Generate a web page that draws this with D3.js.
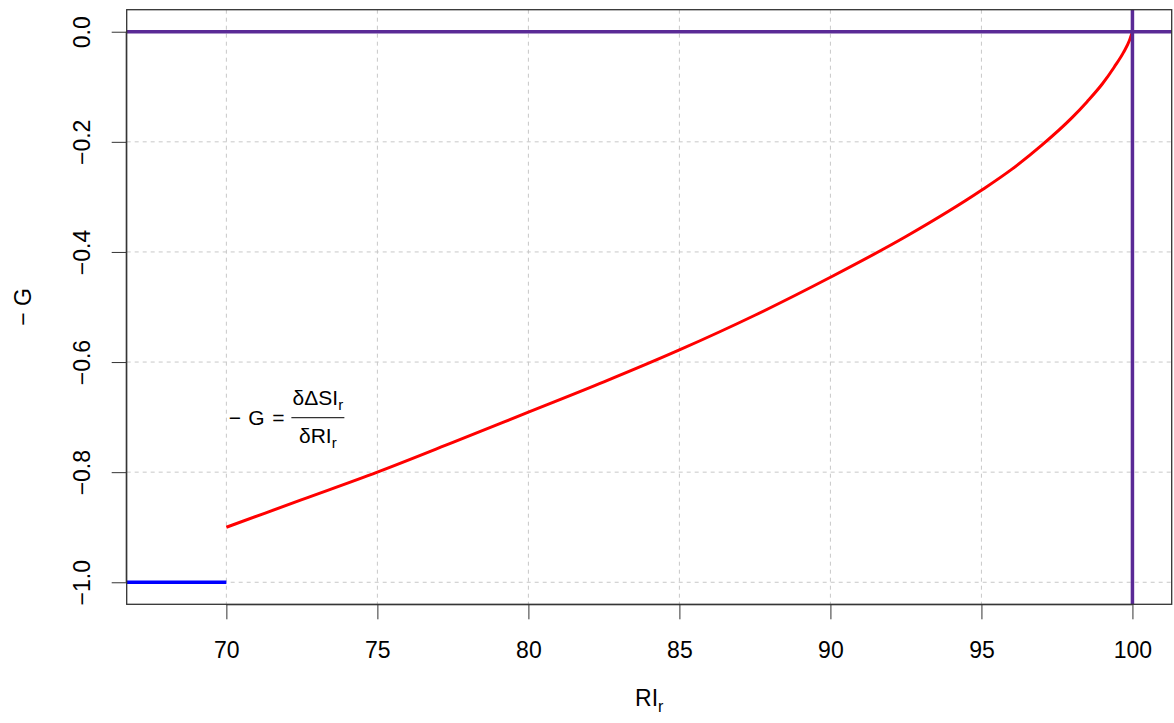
<!DOCTYPE html>
<html>
<head>
<meta charset="utf-8">
<script src="https://cdn.jsdelivr.net/npm/d3@7"></script>
<style>
  body { margin: 0; background: #fff; }
  text { font-family: "Liberation Sans", Arial, sans-serif; fill: #000; }
</style>
</head>
<body>
<div id="chart"></div>
<script>
'use strict';

const width = 1174, height = 723,
    margin = {top: 10, right: 2, bottom: 119, left: 127};

// values
const curveX = [70, 72.5, 75, 77.5, 80, 82.5, 85, 87.5, 90, 92.5, 95, 96, 97, 98, 98.5, 99, 99.4, 99.7, 99.9, 100];
const curveY = [-0.900, -0.850, -0.800, -0.746, -0.691, -0.636, -0.578, -0.515, -0.446, -0.372, -0.288, -0.250, -0.206, -0.156, -0.127, -0.095, -0.064, -0.038, -0.016, 0];
const flatX = [66.7, 70];
const flatY = [-1, -1];
const xTicks = [70, 75, 80, 85, 90, 95, 100];
const yTicks = [0, -0.2, -0.4, -0.6, -0.8, -1.0];
const hLineY = 0;
const vLineX = 100;

const curveData = curveX.map((x, i) => ({x: x, y: curveY[i]}));
const flatData = flatX.map((x, i) => ({x: x, y: flatY[i]}));

const xScale = d3.scaleLinear()
    .domain([66.70, 101.30])
    .range([126.7, width - margin.right - 0.3]);
const yScale = d3.scaleLinear()
    .domain([-1.04, 0.04])
    .range([604.3, 9.7]);

const svg = d3.select("#chart")
    .append("svg")
    .attr("width", width)
    .attr("height", height);

const x0 = xScale.range()[0], x1 = xScale.range()[1];
const y0 = yScale.range()[1], y1 = yScale.range()[0];

// grid
svg.append("g")
    .selectAll("line")
    .data(xTicks)
    .join("line")
    .attr("x1", d => xScale(d)).attr("x2", d => xScale(d))
    .attr("y1", y0).attr("y2", y1)
    .attr("stroke", "#c8c8c8")
    .attr("stroke-dasharray", "4,4");
svg.append("g")
    .selectAll("line")
    .data(yTicks)
    .join("line")
    .attr("y1", d => yScale(d)).attr("y2", d => yScale(d))
    .attr("x1", x0).attr("x2", x1)
    .attr("stroke", "#c8c8c8")
    .attr("stroke-dasharray", "4,4");

const line = d3.line()
    .x(d => xScale(d.x))
    .y(d => yScale(d.y));

svg.append("defs").append("clipPath")
    .attr("id", "plotclip")
    .append("rect")
    .attr("x", x0).attr("y", y0)
    .attr("width", x1 - x0).attr("height", y1 - y0);

const plot = svg.append("g").attr("clip-path", "url(#plotclip)");

plot.append("path")
    .datum(flatData)
    .attr("d", line)
    .attr("fill", "none")
    .attr("stroke", "#0000ff")
    .attr("stroke-width", 3.5);

plot.append("path")
    .datum(curveData)
    .attr("d", line.curve(d3.curveMonotoneX))
    .attr("fill", "none")
    .attr("stroke", "#ff0000")
    .attr("stroke-width", 3);

plot.append("line")
    .attr("x1", x0).attr("x2", x1)
    .attr("y1", yScale(hLineY)).attr("y2", yScale(hLineY))
    .attr("stroke", "#5a2a96")
    .attr("stroke-width", 3.5);
plot.append("line")
    .attr("x1", xScale(vLineX)).attr("x2", xScale(vLineX))
    .attr("y1", y0).attr("y2", y1)
    .attr("stroke", "#5a2a96")
    .attr("stroke-width", 3.5);

// box
svg.append("rect")
    .attr("x", x0).attr("y", y0)
    .attr("width", x1 - x0).attr("height", y1 - y0)
    .attr("fill", "none")
    .attr("stroke", "#333")
    .attr("stroke-width", 1.3);

// axes
const xAxis = d3.axisBottom(xScale)
    .tickValues(xTicks)
    .tickSize(15)
    .tickPadding(22)
    .tickFormat(d3.format("d"));
const gx = svg.append("g")
    .attr("transform", `translate(0,${y1})`)
    .call(xAxis);
gx.select(".domain").attr("d", `M${xScale(70)},0.5H${xScale(100)}`).attr("stroke", "#333");
gx.selectAll(".tick line").attr("stroke", "#333");
gx.selectAll("text")
    .style("font-size", "23px")
    .attr("fill", "#000");

const yAxis = d3.axisLeft(yScale)
    .tickValues(yTicks)
    .tickSize(15)
    .tickFormat(d3.format(".1f"));
const gy = svg.append("g")
    .attr("transform", `translate(${x0},0)`)
    .call(yAxis);
gy.select(".domain").attr("d", `M-0.5,${yScale(0)}V${yScale(-1)}`).attr("stroke", "#333");
gy.selectAll(".tick line").attr("stroke", "#333");
gy.selectAll("text")
    .style("font-size", "23px")
    .attr("fill", "#000")
    .attr("x", 0).attr("dy", 0)
    .attr("text-anchor", "middle")
    .attr("transform", "translate(-37,0) rotate(-90)")
    .text(d => d3.format(".1f")(d).replace("-", "\u2212"));

// axis labels
svg.append("text")
    .attr("transform", `translate(31,${(y0 + y1) / 2}) rotate(-90)`)
    .attr("text-anchor", "middle")
    .style("font-size", "23px")
    .text("\u2212 G");

const xl = svg.append("text")
    .attr("x", (x0 + x1) / 2)
    .attr("y", 706)
    .attr("text-anchor", "middle")
    .style("font-size", "23px");
xl.append("tspan").text("RI");
xl.append("tspan").attr("dy", 6).style("font-size", "16px").text("r");

// annotation
const ax = xScale(70), ay = yScale(-0.7);
const ann = svg.append("g").attr("transform", `translate(${ax},${ay})`)
    .style("font-size", "21px");
ann.append("text").attr("x", 2.5).attr("y", 7.5).text("\u2212");
ann.append("text").attr("x", 22).attr("y", 7.5).text("G");
ann.append("text").attr("x", 46).attr("y", 7.5).text("=");
ann.append("line")
    .attr("x1", 65).attr("x2", 118)
    .attr("y1", 0.5).attr("y2", 0.5)
    .attr("stroke", "#333")
    .attr("stroke-width", 1.2);
const num = ann.append("text")
    .attr("x", 91.5).attr("y", -12)
    .attr("text-anchor", "middle");
num.append("tspan").text("\u03b4\u0394SI");
num.append("tspan").attr("dy", 5).style("font-size", "15px").text("r");
const den = ann.append("text")
    .attr("x", 91.5).attr("y", 26)
    .attr("text-anchor", "middle");
den.append("tspan").text("\u03b4RI");
den.append("tspan").attr("dy", 5).style("font-size", "15px").text("r");
</script>
</body>
</html>
